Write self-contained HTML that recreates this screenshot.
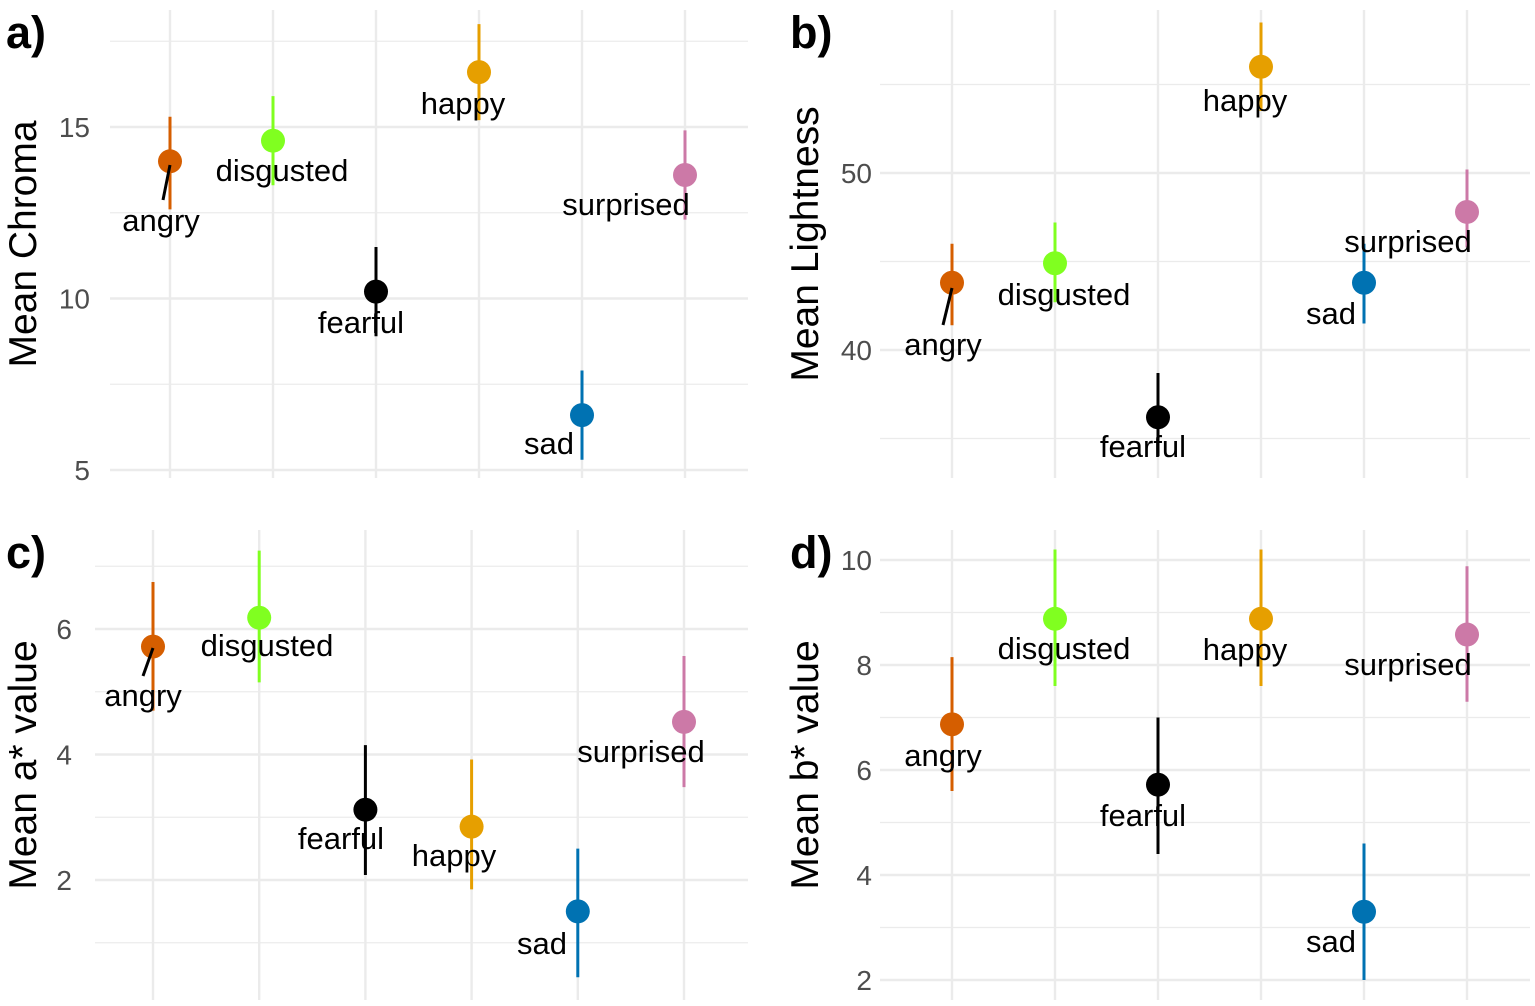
<!DOCTYPE html>
<html><head><meta charset="utf-8"><style>
body{margin:0;background:#fff;}
svg{display:block;font-family:"Liberation Sans",Arial,sans-serif;}
</style></head><body>
<svg id="chart" width="1535" height="1006"></svg>
<script>
const categories=["angry","disgusted","fearful","happy","sad","surprised"];
const colors=["#D55E00","#80FF20","#000000","#E69F00","#0072B2","#CC79A7"];
const chromaMean=[14.0,14.6,10.2,16.6,6.6,13.6];
const chromaLo=[12.6,13.3,8.9,15.2,5.3,12.3];
const chromaHi=[15.3,15.9,11.5,18.0,7.9,14.9];
const lightMean=[43.8,44.9,36.2,56.0,43.8,47.8];
const lightLo=[41.4,42.7,34.0,53.5,41.5,45.8];
const lightHi=[46.0,47.2,38.7,58.5,46.0,50.2];
const aMean=[5.72,6.18,3.12,2.85,1.5,4.52];
const aLo=[4.7,5.15,2.08,1.85,0.45,3.48];
const aHi=[6.75,7.25,4.15,3.92,2.5,5.57];
const bMean=[6.87,8.88,5.72,8.88,3.3,8.58];
const bLo=[5.6,7.6,4.4,7.6,2.0,7.3];
const bHi=[8.15,10.2,7.0,10.2,4.6,9.88];
const aTicks=[5,10,15], aMinor=[7.5,12.5,17.5];
const bTicks=[40,50], bMinor=[35,45,55];
const cTicks=[2,4,6], cMinor=[1,3,5,7];
const dTicks=[2,4,6,8,10], dMinor=[3,5,7,9];

const NS="http://www.w3.org/2000/svg";
const svg=document.getElementById('chart');
function mk(tag,attrs,parent){const e=document.createElementNS(NS,tag);for(const k in attrs)e.setAttribute(k,attrs[k]);(parent||svg).appendChild(e);return e;}

const panels=[
 {letter:"a)",title:"Mean Chroma",mean:chromaMean,lo:chromaLo,hi:chromaHi,ticks:aTicks,minor:aMinor,
  v0:15,y0:127,v1:5,y1:470,x0:110,x1:748,top:10,bot:478,xs:170,dx:103,lx:6,ly:48,titleX:22,tickX:90,
  labels:[[161,220],[282,170],[361,322],[463,103],[549,443],[626,204]],seg:[163,200,170,165]},
 {letter:"b)",title:"Mean Lightness",mean:lightMean,lo:lightLo,hi:lightHi,ticks:bTicks,minor:bMinor,
  v0:50,y0:173,v1:40,y1:350,x0:880,x1:1530,top:10,bot:478,xs:952,dx:103,lx:790,ly:48,titleX:804,tickX:872,
  labels:[[943,344],[1064,294],[1143,446],[1245,100],[1331,313],[1408,241]],seg:[943,325,952,288]},
 {letter:"c)",title:"Mean a* value",mean:aMean,lo:aLo,hi:aHi,ticks:cTicks,minor:cMinor,
  v0:6,y0:629,v1:2,y1:880,x0:95,x1:748,top:530,bot:1000,xs:153,dx:106.2,lx:6,ly:568,titleX:22,tickX:72,
  labels:[[143,695],[267,645],[341,838],[454,855],[542,943],[641,751]],seg:[143,676,153,648]},
 {letter:"d)",title:"Mean b* value",mean:bMean,lo:bLo,hi:bHi,ticks:dTicks,minor:dMinor,
  v0:10,y0:560,v1:2,y1:980,x0:880,x1:1530,top:530,bot:1000,xs:952,dx:103,lx:790,ly:568,titleX:804,tickX:872,
  labels:[[943,755],[1064,648],[1143,815],[1245,649],[1331,941],[1408,664]],seg:null}
];
panels.forEach((p,pi)=>{
  const g=mk('g',{});
  
  
  const y=v=>p.y0+(v-p.v0)*(p.y1-p.y0)/(p.v1-p.v0);
  const x=i=>p.xs+i*p.dx;
  p.minor.forEach(v=>{const l=mk('line',{x1:p.x0,x2:p.x1,y1:y(v),y2:y(v),stroke:'#ebebeb','stroke-width':1.2},g);
    });
  p.ticks.forEach(v=>{const l=mk('line',{x1:p.x0,x2:p.x1,y1:y(v),y2:y(v),stroke:'#ebebeb','stroke-width':2.4},g);
    
    const t=mk('text',{x:p.tickX,y:y(v)+10,'text-anchor':'end','font-size':28,fill:'#4d4d4d'},g);t.textContent=v;
    });
  categories.forEach((c,i)=>{const l=mk('line',{x1:x(i),x2:x(i),y1:p.top,y2:p.bot,stroke:'#ebebeb','stroke-width':2.4},g);
    });
  categories.forEach((c,i)=>{
    const e=mk('line',{x1:x(i),x2:x(i),y1:y(p.lo[i]),y2:y(p.hi[i]),stroke:colors[i],'stroke-width':3},g);
    
    const d=mk('circle',{cx:x(i),cy:y(p.mean[i]),r:12,fill:colors[i]},g);
    
    const t=mk('text',{x:p.labels[i][0],y:p.labels[i][1]+11,'text-anchor':'middle','font-size':31,fill:'#000'},g);t.textContent=c;
    
  });
  if(p.seg){const s=mk('line',{x1:p.seg[0],y1:p.seg[1],x2:p.seg[2],y2:p.seg[3],stroke:'#000','stroke-width':3},g);
    }
  const cy=(p.top+p.bot)/2;
  const tt=mk('text',{x:p.titleX,y:cy,'text-anchor':'middle','font-size':39,fill:'#000',transform:`rotate(-90 ${p.titleX} ${cy}) translate(0 14)`},g);
  tt.textContent=p.title;
  const lt=mk('text',{x:p.lx,y:p.ly,'font-size':45,'font-weight':'bold',fill:'#000'},g);lt.textContent=p.letter;
  
});
</script>
</body></html>
